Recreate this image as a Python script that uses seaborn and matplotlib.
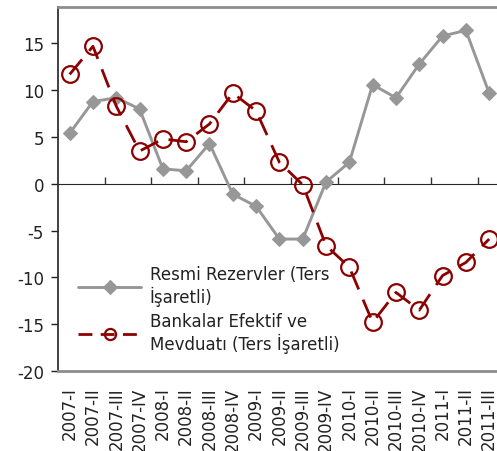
import matplotlib
matplotlib.use('Agg')
import matplotlib.pyplot as plt
import numpy as np
import pandas as pd
import seaborn as sns

# DÖNEMLER
quarters = ['2007-I', '2007-II', '2007-III', '2007-IV',
            '2008-I', '2008-II', '2008-III', '2008-IV',
            '2009-I', '2009-II', '2009-III', '2009-IV',
            '2010-I', '2010-II', '2010-III', '2010-IV',
            '2011-I', '2011-II', '2011-III']
resmi_rezervler = [5.4, 8.8, 9.2, 8.0, 1.6, 1.4, 4.3, -1.1, -2.4, -5.9,
                   -5.9, 0.2, 2.3, 10.6, 9.2, 12.8, 15.8, 16.4, 9.7]
bankalar_efektif = [11.7, 14.7, 8.3, 3.5, 4.8, 4.5, 6.4, 9.7, 7.8, 2.3,
                    -0.1, -6.6, -8.9, -14.8, -11.6, -13.5, -9.8, -8.4, -5.9]
label_rezerv = 'Resmi Rezervler (Ters\nİşaretli)'
label_banka = 'Bankalar Efektif ve\nMevduatı (Ters İşaretli)'

YMIN, YMAX = -20, 18.9
FS = 12

sns.set_style('white')
plt.rcParams['font.family'] = ['DejaVu Sans']
plt.rcParams['axes.unicode_minus'] = False

df = pd.DataFrame({'pos': np.arange(len(quarters)),
                   'rezerv': resmi_rezervler,
                   'banka': bankalar_efektif})

fig = plt.figure(figsize=(4.97, 4.52), dpi=100)
ax = fig.add_axes([0.1167, 0.177, 0.891, 0.8053])

sns.lineplot(data=df, x='pos', y='rezerv', ax=ax, color='#979797', lw=2.1,
             marker='D', markersize=7.5, markeredgecolor='#979797',
             label=label_rezerv)
sns.lineplot(data=df, x='pos', y='banka', ax=ax, color='#8b0000', lw=2,
             marker='o', markersize=12, markerfacecolor='none',
             markeredgecolor='#8b0000', markeredgewidth=1.6,
             dashes=(7, 4), label=label_banka)

ax.set_xlim(-0.5, len(quarters) - 0.5)
ax.set_ylim(YMIN, YMAX)
ax.set_xlabel('')
ax.set_ylabel('')

ax.set_xticks(df['pos'])
ax.set_xticklabels(quarters, rotation=90, fontsize=FS, color='#222222')
ax.tick_params(axis='x', length=0, pad=11)
ax.set_yticks(np.arange(-20, 16, 5))
ax.tick_params(axis='y', labelsize=FS, colors='#222222', length=5,
               direction='out', left=True, width=1, pad=5)

for s in ['top', 'bottom']:
    ax.spines[s].set_color('#8c8c8c')
    ax.spines[s].set_linewidth(2)
ax.spines['left'].set_color('#333333')
ax.spines['left'].set_linewidth(1.3)
ax.spines['right'].set_visible(False)

# sıfır çizgisi ve ara tikler
zero_loc = (0 - YMIN) / (YMAX - YMIN)
sec = ax.secondary_xaxis(zero_loc)
sec.set_xticks(np.arange(1.5, len(quarters), 2))
sec.set_xticklabels([])
sec.tick_params(direction='out', length=5, width=1, colors='#333333')
sec.spines['bottom'].set_color('#333333')
sec.spines['bottom'].set_linewidth(1.2)

leg = ax.legend(loc='lower left', bbox_to_anchor=(0.03, 0.03), frameon=False,
                fontsize=FS, handlelength=3.8, handletextpad=0.5,
                labelspacing=0.35, borderaxespad=0)
leg.legend_handles[1].set_markersize(8)
leg.legend_handles[1].set_dashes((5, 3))
for t in leg.get_texts():
    t.set_color('#222222')

fig.savefig('out.png', dpi=100)
